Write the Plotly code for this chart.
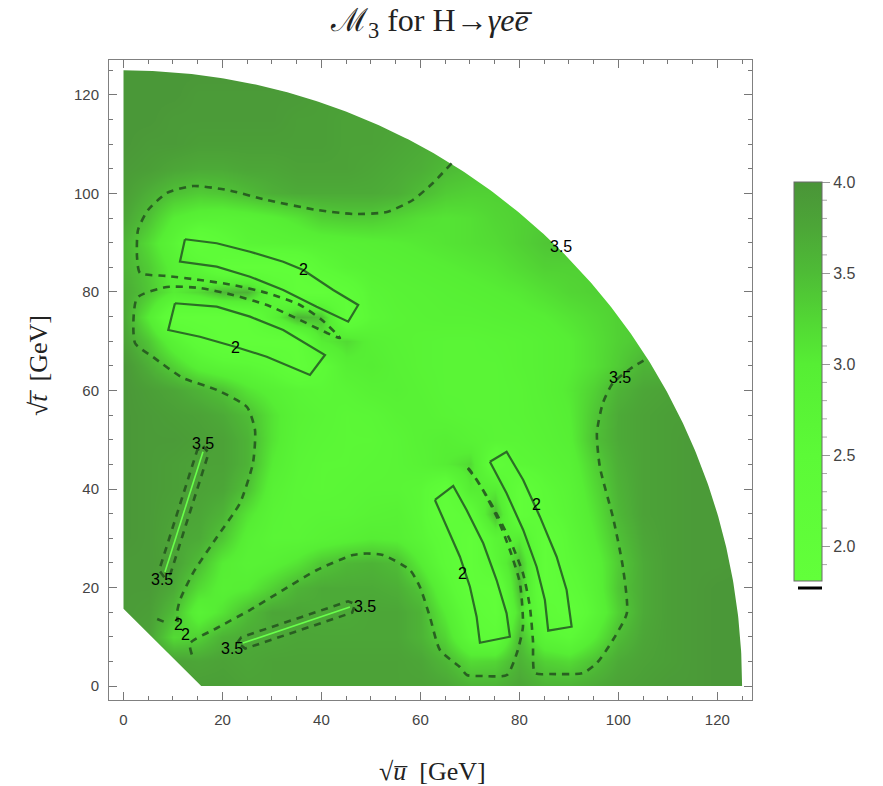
import numpy as np
import plotly.graph_objects as go

# ---------------- data ----------------
U_GRID = [0, 5, 10, 15, 20, 25, 30, 35, 40, 45, 50, 55, 60, 65, 70, 75, 80, 85, 90, 95, 100, 105, 110, 115, 120, 125]
T_GRID = [0, 5, 10, 15, 20, 25, 30, 35, 40, 45, 50, 55, 60, 65, 70, 75, 80, 85, 90, 95, 100, 105, 110, 115, 120, 125]

# M3 values, one row per sqrt(t) value, columns = sqrt(u)
M3_ROWS = [
    [3.85,3.85,3.85,3.85,3.85,3.8,3.8,3.8,3.8,3.8,3.8,3.8,3.8,3.75,3.6,3.6,3.75,3.6,3.6,3.7,3.8,3.85,3.9,3.9,3.95,3.95],
    [3.85,3.85,3.8,3.75,3.8,3.75,3.8,3.8,3.8,3.8,3.8,3.8,3.75,3.55,3.2,3.25,3.6,3.3,3.2,3.45,3.7,3.8,3.85,3.9,3.95,3.95],
    [3.85,3.8,3.2,3.3,3.6,3.7,3.7,3.75,3.75,3.75,3.75,3.75,3.6,3.25,2.5,2.3,3.5,2.7,2.5,3.0,3.5,3.75,3.85,3.9,3.95,3.95],
    [3.9,3.85,3.5,2.8,3.1,3.5,3.75,3.75,3.7,3.7,3.75,3.75,3.6,3.0,2.3,1.95,3.2,2.3,2.0,2.7,3.3,3.7,3.85,3.9,3.95,3.95],
    [3.9,3.9,3.7,3.2,2.9,3.0,3.3,3.6,3.7,3.7,3.7,3.65,3.4,2.7,2.0,1.95,3.5,1.95,2.3,2.8,3.4,3.7,3.85,3.9,3.95,3.95],
    [3.9,3.9,3.8,3.5,3.0,2.8,2.9,3.1,3.4,3.55,3.6,3.5,3.0,2.4,1.95,2.6,3.5,1.95,2.5,2.85,3.35,3.7,3.85,3.9,3.9,3.95],
    [3.95,3.9,3.75,3.7,3.4,2.9,2.7,2.7,2.8,2.9,3.0,2.95,2.7,2.3,1.95,2.7,3.0,1.95,2.6,3.0,3.45,3.75,3.85,3.9,3.9,3.9],
    [3.95,3.9,3.8,3.75,3.6,3.1,2.75,2.65,2.7,2.7,2.8,2.85,2.6,1.95,2.3,3.5,1.95,2.4,2.7,3.1,3.55,3.8,3.85,3.9,3.9,3.9],
    [3.95,3.9,3.85,3.8,3.75,3.45,2.85,2.65,2.6,2.65,2.7,2.7,2.6,2.1,3.0,3.0,1.95,2.5,2.75,3.2,3.6,3.8,3.85,3.9,3.9,3.9],
    [3.95,3.9,3.85,3.8,3.8,3.6,3.0,2.7,2.6,2.6,2.65,2.7,2.8,3.0,3.2,2.1,2.6,2.7,2.85,3.3,3.65,3.8,3.85,3.9,3.9,3.9],
    [3.95,3.9,3.9,3.85,3.8,3.6,3.1,2.75,2.65,2.6,2.6,2.7,2.85,2.95,2.8,2.7,2.7,2.8,2.95,3.45,3.7,3.8,3.85,3.9,3.9,3.9],
    [3.95,3.9,3.85,3.8,3.7,3.5,3.1,2.8,2.7,2.6,2.65,2.8,2.85,2.75,2.7,2.7,2.75,2.85,3.0,3.4,3.7,3.8,3.85,3.85,3.85,3.85],
    [3.95,3.85,3.75,3.6,3.45,3.1,2.9,2.7,2.6,2.7,2.85,2.9,2.8,2.7,2.7,2.7,2.75,2.9,3.05,3.3,3.6,3.75,3.8,3.8,3.8,3.8],
    [3.95,3.65,3.3,2.9,2.7,2.6,2.4,1.95,2.4,2.9,3.0,2.85,2.75,2.7,2.7,2.7,2.8,2.9,3.0,3.15,3.35,3.6,3.6,3.6,3.6,3.6],
    [3.8,3.4,2.8,2.3,1.95,1.9,1.9,1.95,3.0,3.2,2.9,2.8,2.75,2.7,2.7,2.75,2.8,2.9,3.0,3.15,3.3,3.4,3.4,3.4,3.4,3.4],
    [3.75,3.0,2.0,1.9,1.9,2.0,2.8,3.6,3.45,2.0,2.6,2.75,2.8,2.85,2.85,2.9,2.95,3.0,3.1,3.2,3.3,3.35,3.4,3.4,3.4,3.4],
    [3.7,3.4,3.0,3.2,3.55,3.6,2.6,1.9,1.9,2.2,2.7,2.8,2.85,2.9,2.95,3.0,3.05,3.15,3.25,3.3,3.3,3.3,3.3,3.3,3.3,3.3],
    [3.6,3.35,2.9,2.6,2.0,1.9,1.9,2.0,2.5,2.75,2.85,2.9,2.95,3.0,3.05,3.1,3.2,3.3,3.3,3.3,3.3,3.3,3.3,3.3,3.3,3.3],
    [3.6,3.2,2.7,2.0,2.4,2.7,2.75,2.8,2.85,2.9,2.95,3.0,3.05,3.1,3.15,3.2,3.3,3.4,3.45,3.45,3.45,3.45,3.45,3.45,3.45,3.45],
    [3.75,3.45,3.0,2.85,2.8,2.85,2.95,3.1,3.3,3.35,3.35,3.25,3.15,3.1,3.15,3.25,3.3,3.35,3.35,3.35,3.35,3.35,3.35,3.35,3.35,3.35],
    [3.85,3.65,3.45,3.35,3.4,3.52,3.65,3.7,3.7,3.7,3.7,3.65,3.5,3.35,3.3,3.3,3.3,3.3,3.3,3.3,3.3,3.3,3.3,3.3,3.3,3.3],
    [3.9,3.85,3.75,3.7,3.7,3.75,3.75,3.8,3.8,3.8,3.75,3.7,3.65,3.52,3.45,3.4,3.4,3.4,3.4,3.4,3.4,3.4,3.4,3.4,3.4,3.4],
    [3.95,3.9,3.9,3.85,3.85,3.85,3.85,3.85,3.85,3.8,3.8,3.75,3.7,3.65,3.6,3.6,3.6,3.6,3.6,3.6,3.6,3.6,3.6,3.6,3.6,3.6],
    [3.95,3.95,3.9,3.9,3.9,3.9,3.9,3.85,3.85,3.8,3.8,3.8,3.8,3.8,3.8,3.8,3.8,3.8,3.8,3.8,3.8,3.8,3.8,3.8,3.8,3.8],
    [3.95,3.95,3.95,3.9,3.9,3.9,3.9,3.9,3.85,3.85,3.85,3.85,3.85,3.85,3.85,3.85,3.85,3.85,3.85,3.85,3.85,3.85,3.85,3.85,3.85,3.85],
    [3.95,3.95,3.95,3.95,3.95,3.95,3.95,3.95,3.95,3.95,3.95,3.95,3.95,3.95,3.95,3.95,3.95,3.95,3.95,3.95,3.95,3.95,3.95,3.95,3.95,3.95],
]

M_HIGGS = 125.0          # outer boundary sqrt(u)^2 + sqrt(t)^2 <= mH^2
CORNER_CUT = 15.7        # lower-left excluded corner

# contour M3 = 3.5 (dashed), points (sqrt u, sqrt t)
C35_UPPER = [(66.30,106.13),(62.53,102.13),(58.48,98.68),(53.23,96.24),(46.36,95.84),(39.09,96.65),
             (28.99,98.68),(20.91,100.71),(14.04,101.52),(8.79,100.10),(4.95,96.65),(2.93,92.59),
             (2.73,87.11),(3.33,83.86),(8.79,83.25),(15.45,82.44),(22.12,81.42),(28.99,79.80),
             (35.66,77.36),(40.10,74.31),(43.74,70.66),(41.11,71.68),(35.66,74.31),(28.99,77.36),
             (22.12,79.39),(15.45,80.81),(8.79,81.02),(2.73,78.78),(2.32,69.65),(5.96,66.80),
             (12.02,62.54),(18.89,60.10),(24.95,56.65),(26.57,51.98),(26.16,45.28),(23.54,37.16),
             (18.89,30.25),(14.04,22.94),(11.41,17.46),(10.81,14.82),(11.01,13.0)]
C35_LOWER = [(13.8,6.4),(13.43,8.67),(18.89,11.78),(25.56,15.43),(32.22,19.49),(39.09,23.55),(46.36,26.60),
             (49.1,26.9),(52.42,26.60),(57.88,23.55),(59.90,20.10),(61.92,14.01),(63.94,7.31),(67.98,3.86),
             (69.39,2.23),(72.63,2.03),(77.47,2.23),(79.49,6.70),(80.71,11.98),(80.10,20.91),
             (78.08,27.61),(75.45,34.31),(72.63,39.80),(70.0,43.86),(69.19,44.67),(71.41,41.83),
             (74.65,36.35),(78.08,29.64),(80.71,22.94),(82.12,16.04),(82.73,9.34),(83.13,2.64),
             (86.16,2.44),(92.83,2.64),(95.66,4.67),(98.89,9.34),(101.72,14.82),(100.91,24.16),
             (98.89,34.31),(96.26,44.47),(95.66,51.37),(96.87,57.46),(98.89,61.52),(102.93,64.77),
             (105.96,66.60)]
C35_SPIKE_A = [(16.1,48.7),(17.2,47.3),(9.5,22.8),(8.3,22.0),(7.2,23.5),(14.9,47.9),(16.1,48.7)]
C35_SPIKE_B = [(23.0,8.8),(23.8,9.9),(45.4,17.2),(46.8,16.6),(46.2,14.9),(24.6,7.6),(23.0,8.8)]
C35_CORNER = [(6.8,13.6),(8.8,12.8)]
SPIKE_LINES = [[(16.06,47.57),(8.38,23.15)], [(24.14,8.73),(45.76,16.04)]]

# contour M3 = 2 (solid)
C2_BOX_A = [(12.42,90.70),(18.83,89.89),(25.56,88.18),(32.28,86.15),(36.32,84.47),(42.38,80.41),(47.43,77.36),
            (45.41,73.97),(39.03,77.01),(32.28,80.41),(25.56,83.11),(18.83,85.14),(11.41,86.15),(12.42,90.70)]
C2_BOX_B = [(10.40,77.71),(18.83,77.02),(25.56,74.99),(32.28,72.28),(40.71,67.21),
            (37.68,63.15),(28.93,66.86),(22.53,68.89),(15.45,70.92),(9.05,72.28),(10.40,77.71)]
C2_BOX_C = [(62.93,37.77),(65.29,32.35),(67.98,26.25),(70.0,20.16),(71.35,14.07),(72.02,8.79),
            (78.08,10.01),(77.41,14.76),(75.39,21.52),(72.69,28.98),(69.33,35.74),(66.63,40.61),(62.93,37.77)]
C2_BOX_D = [(74.04,45.54),(77.41,39.13),(80.77,31.68),(83.47,24.22),(85.15,17.46),(85.82,11.23),
            (90.55,12.04),(89.54,19.49),(87.52,26.25),(84.14,34.38),(80.77,41.83),(77.41,47.57),(74.04,45.54)]

LABELS_2 = [(36.3,84.5),(22.7,68.8),(68.4,22.9),(83.5,36.8),(11.1,12.4),(12.6,10.4)]
LABELS_35 = [(88.5,89.2),(100.3,62.6),(16.1,49.3),(7.7,21.7),(48.8,16.1),(21.9,7.7)]

CB_TICKS = [2.0, 2.5, 3.0, 3.5, 4.0]
CB_MINOR = [1.9, 2.1, 2.2, 2.3, 2.4, 2.6, 2.7, 2.8, 2.9, 3.1, 3.2, 3.3, 3.4, 3.6, 3.7, 3.8, 3.9]
ZMIN, ZMAX = 1.81, 4.0

# ---------------- figure ----------------
W, H = 883, 786
ML, MR, MT, MB = 109, 131, 60, 86
PW, PH = W - ML - MR, H - MT - MB

colorscale = [
    [0.0, 'rgb(98,255,58)'],
    [0.315, 'rgb(92,250,55)'],
    [0.543, 'rgb(86,238,52)'],
    [0.658, 'rgb(82,214,52)'],
    [0.772, 'rgb(78,188,54)'],
    [0.886, 'rgb(76,166,55)'],
    [1.0, 'rgb(74,148,56)'],
]

fig = go.Figure()

cb_top, cb_bot = 182, 581
cb_left, cb_thick = 794, 28
fig.add_trace(go.Heatmap(
    x=U_GRID, y=T_GRID, z=M3_ROWS, zsmooth='best', colorscale=colorscale,
    zmin=ZMIN, zmax=ZMAX, hoverinfo='skip',
    colorbar=dict(
        thickness=cb_thick, len=cb_bot - cb_top, lenmode='pixels',
        x=(cb_left - ML) / PW, xanchor='left', xpad=0,
        y=1 - ((cb_top + cb_bot) / 2 - MT) / PH, yanchor='middle', ypad=0,
        outlinewidth=1, outlinecolor='#6a6a6a',
        tickvals=CB_TICKS, ticktext=['%.1f' % v for v in CB_TICKS],
        ticks='outside', ticklen=8, tickwidth=1, tickcolor='#999',
        tickfont=dict(family='Liberation Sans', size=16, color='#444'),
    ),
))

# white masks outside the kinematic region
th = np.linspace(0, np.pi / 2, 300)
arc_u = list(M_HIGGS * np.cos(th))
arc_t = list(M_HIGGS * np.sin(th))
mask1_u = arc_u + [-10, -10, 140, 140, M_HIGGS]
mask1_t = arc_t + [M_HIGGS, 140, 140, -10, 0]
mask2_u = [0, 0, CORNER_CUT, 140, 140, -10, -10, 0]
mask2_t = [140, CORNER_CUT, 0, 0, -10, -10, 140, 140]
for mu, mt in [(mask1_u, mask1_t), (mask2_u, mask2_t)]:
    fig.add_trace(go.Scatter(x=mu, y=mt, mode='lines', fill='toself', fillcolor='white',
                             line=dict(width=0, color='white'), hoverinfo='skip'))

# bright thin spikes
for seg in SPIKE_LINES:
    fig.add_trace(go.Scatter(x=[p[0] for p in seg], y=[p[1] for p in seg], mode='lines',
                             line=dict(color='rgb(105,255,75)', width=1.6), hoverinfo='skip'))

dash_style = dict(color='rgba(38,88,32,0.92)', width=2.6, dash='7px,6px')
for pts, shp in [(C35_UPPER, 'spline'), (C35_LOWER, 'spline'), (C35_SPIKE_A, 'linear'),
                 (C35_SPIKE_B, 'linear'), (C35_CORNER, 'linear')]:
    fig.add_trace(go.Scatter(x=[p[0] for p in pts], y=[p[1] for p in pts], mode='lines',
                             line=dict(shape=shp, smoothing=0.6, **dash_style), hoverinfo='skip'))

for pts in [C2_BOX_A, C2_BOX_B, C2_BOX_C, C2_BOX_D]:
    fig.add_trace(go.Scatter(x=[p[0] for p in pts], y=[p[1] for p in pts], mode='lines',
                             line=dict(color='rgb(44,110,38)', width=2.2), hoverinfo='skip'))

annotations = []
for txt, lst in [('2', LABELS_2), ('3.5', LABELS_35)]:
    for (u, t) in lst:
        annotations.append(dict(x=u, y=t, xref='x', yref='y', text=txt, showarrow=False,
                                xanchor='center', yanchor='middle',
                                font=dict(family='Liberation Sans', size=16, color='black')))

annotations.append(dict(xref='paper', yref='paper', x=(431 - ML) / PW, y=1 + (MT - 23) / PH,
                        xanchor='center', yanchor='middle',
                        text='ℳ<sub>3</sub> for H→<i>γee̅</i>', showarrow=False,
                        font=dict(family='Liberation Serif', size=32, color='#222')))
annotations.append(dict(xref='paper', yref='paper', x=(432 - ML) / PW, y=1 - (771 - MT) / PH,
                        xanchor='center', yanchor='middle',
                        text='√<i>u̅</i>\u00a0\u00a0[GeV]', showarrow=False,
                        font=dict(family='Liberation Serif', size=26, color='#222')))
annotations.append(dict(xref='paper', yref='paper', x=(38 - ML) / PW, y=1 - (366 - MT) / PH,
                        xanchor='center', yanchor='middle',
                        text='√<i>t̅</i>\u00a0\u00a0[GeV]', showarrow=False, textangle=-90,
                        font=dict(family='Liberation Serif', size=26, color='#222')))

# colorbar minor ticks and the below-range marker
shapes = []
for v in CB_MINOR:
    ypx = cb_bot - (v - ZMIN) / (ZMAX - ZMIN) * (cb_bot - cb_top)
    yp = 1 - (ypx - MT) / PH
    shapes.append(dict(type='line', xref='paper', yref='paper',
                       x0=(cb_left + cb_thick - ML) / PW, x1=(cb_left + cb_thick + 5 - ML) / PW,
                       y0=yp, y1=yp, line=dict(color='#aaa', width=1)))
shapes.append(dict(type='line', xref='paper', yref='paper',
                   x0=(798 - ML) / PW, x1=(822 - ML) / PW,
                   y0=1 - (588 - MT) / PH, y1=1 - (588 - MT) / PH,
                   line=dict(color='black', width=3)))

axis_common = dict(showline=True, linecolor='#808080', linewidth=1, mirror='allticks',
                   ticks='inside', ticklen=8, tickwidth=1, tickcolor='#777',
                   dtick=20, tick0=0, showgrid=False, zeroline=False,
                   minor=dict(dtick=5, ticks='inside', ticklen=4, tickcolor='#777', showgrid=False),
                   tickfont=dict(family='Liberation Sans', size=15, color='#444'),
                   ticklabelstandoff=6)

fig.update_xaxes(range=[-2.93, 127.0], **axis_common)
fig.update_yaxes(range=[-2.84, 127.1], **axis_common)

fig.update_layout(
    width=W, height=H, margin=dict(l=ML, r=MR, t=MT, b=MB),
    plot_bgcolor='white', paper_bgcolor='white', showlegend=False,
    annotations=annotations, shapes=shapes,
)

fig.write_html('out.html')
